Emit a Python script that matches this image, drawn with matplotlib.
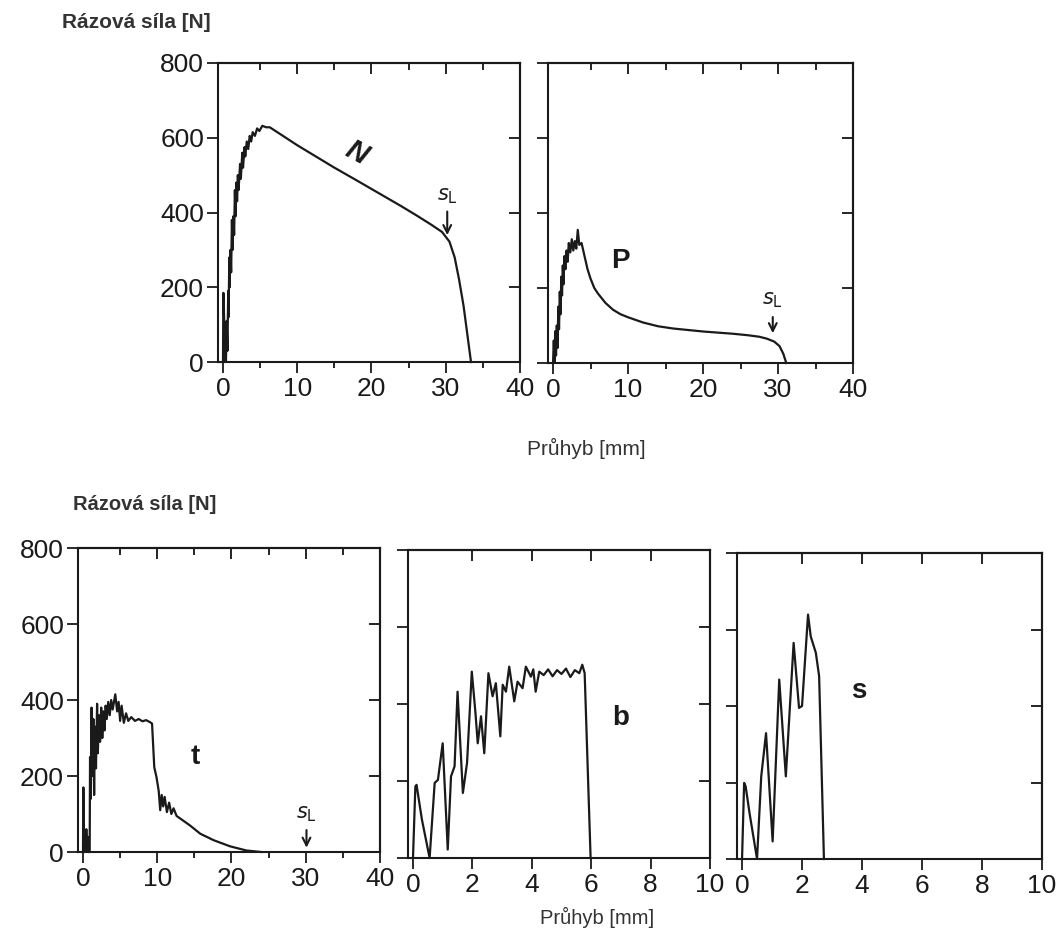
import matplotlib
matplotlib.use("Agg")
import matplotlib.pyplot as plt

plt.rcParams['font.family'] = ['Liberation Sans', 'DejaVu Sans']

# --- data (deflection mm, impact force N) ---
n_x = [0, 0.05, 0.15, 0.2, 0.3, 0.4, 0.5, 0.6, 0.7, 0.75, 0.85, 0.9, 1.0, 1.1, 1.2, 1.3,
       1.4, 1.5, 1.6, 1.7, 1.8, 1.9, 2.0, 2.1, 2.3, 2.4, 2.6, 2.7, 2.9, 3.0, 3.2, 3.4,
       3.6, 3.8, 4.0, 4.3, 4.6, 4.9, 5.3, 5.8, 6.3, 8, 10, 12, 15, 18, 20, 22, 24, 26,
       28, 29.5, 30.5, 31.2, 31.8, 32.4, 33.0, 33.4]
n_y = [0, 185, 120, 0, 60, 0, 110, 30, 190, 120, 280, 200, 300, 240, 380, 300,
       390, 340, 460, 390, 480, 430, 500, 460, 530, 490, 560, 520, 575, 550, 590, 570,
       605, 590, 615, 605, 625, 618, 632, 628, 628, 606, 580, 556, 520, 486, 463, 440, 417, 393,
       368, 348, 322, 280, 220, 150, 60, 0]

p_x = [0, 0.1, 0.2, 0.3, 0.4, 0.5, 0.6, 0.7, 0.8, 0.9, 1.0, 1.1, 1.2, 1.3, 1.4, 1.5,
       1.65, 1.8, 1.95, 2.1, 2.3, 2.5, 2.7, 2.9, 3.1, 3.3, 3.5, 3.8, 4.2, 4.6, 5.0, 5.5,
       6.0, 7.0, 8.0, 9.0, 10, 12, 14, 16, 18, 20, 22, 24, 26, 27.5, 28.5, 29.5, 30.2,
       30.7, 31.1]
p_y = [0, 60, 0, 85, 20, 100, 40, 150, 90, 190, 130, 230, 180, 260, 210, 285,
       250, 300, 270, 320, 295, 330, 300, 325, 305, 355, 315, 320, 285, 250, 225, 200,
       185, 160, 142, 130, 122, 108, 98, 92, 88, 84, 81, 78, 74, 70, 65, 57, 45,
       25, 0]

t_x = [0, 0.05, 0.15, 0.25, 0.35, 0.45, 0.55, 0.65, 0.75, 0.9, 0.95, 1.05, 1.15, 1.25,
       1.4, 1.5, 1.6, 1.75, 1.9, 2.0, 2.15, 2.3, 2.45, 2.6, 2.75, 2.9, 3.05, 3.2, 3.4,
       3.6, 3.8, 4.0, 4.35, 4.6, 4.8, 5.0, 5.2, 5.5, 5.8, 6.1, 6.5, 7.0, 7.5, 8.0, 8.5,
       9.0, 9.3, 9.6, 9.9, 10.2, 10.4, 10.6, 10.8, 11.0, 11.3, 11.6, 11.9, 12.2, 12.6,
       13.1, 14.4, 15.8, 17.6, 19.8, 22, 24]
t_y = [0, 170, 0, 50, 0, 60, 5, 40, 0, 0, 250, 140, 380, 200,
       350, 150, 330, 220, 390, 260, 360, 290, 380, 300, 370, 320, 385, 350, 395,
       360, 400, 375, 415, 370, 395, 345, 385, 340, 365, 345, 355, 345, 350, 344, 347,
       342, 338, 223, 197, 160, 110, 150, 120, 145, 105, 130, 100, 115, 95,
       88, 70, 48, 31, 15, 4, 0]

b_x = [0, 0.08, 0.12, 0.3, 0.56, 0.73, 0.84, 1.0, 1.17, 1.28, 1.4, 1.5, 1.68, 1.82,
       1.98, 2.1, 2.18, 2.29, 2.4, 2.54, 2.68, 2.79, 2.94, 3.02, 3.13, 3.24, 3.41, 3.52,
       3.69, 3.8, 3.97, 4.05, 4.13, 4.25, 4.4, 4.55, 4.7, 4.85, 5.0, 5.15, 5.3, 5.45,
       5.6, 5.7, 5.78, 5.98]
b_y = [0, 186, 190, 100, 0, 195, 203, 298, 22, 212, 238, 432, 169, 247,
       484, 380, 298, 368, 272, 480, 420, 454, 316, 450, 432, 497, 407, 458,
       441, 497, 471, 490, 432, 484, 475, 490, 472, 488, 478, 492, 470, 488,
       480, 502, 480, 0]

s_x = [0, 0.07, 0.12, 0.25, 0.5, 0.64, 0.8, 1.02, 1.24, 1.46, 1.72, 1.9, 2.0, 2.2,
       2.29, 2.46, 2.57, 2.73]
s_y = [0, 199, 190, 120, 0, 216, 329, 46, 469, 216, 565, 395, 400, 639,
       582, 539, 478, 0]

y_ticks = [0, 200, 400, 600, 800]

fig = plt.figure(figsize=(10.62, 9.32), dpi=100)
W, H = 1062.0, 932.0


def panel(left, top, right, bottom, xmax, xmajor, xminor, xtop, xtop_minor, ylabels):
    ax = fig.add_axes([left / W, 1 - bottom / H, (right - left) / W, (bottom - top) / H])
    ax.set_xlim(-xmax * 0.0168, xmax)
    ax.set_ylim(0, 800)
    ax.set_xticks(xmajor)
    ax.set_xticks(xminor, minor=True)
    ax.set_yticks(y_ticks)
    ax.tick_params(axis='both', which='major', direction='out', length=8, width=1.3,
                   labelsize=19, colors='#1a1a1a')
    ax.tick_params(axis='x', which='major', pad=3)
    ax.tick_params(axis='y', which='major', pad=2, labelleft=ylabels)
    ax.tick_params(axis='x', which='minor', direction='out', length=4, width=1.2)
    for sp in ax.spines.values():
        sp.set_linewidth(1.5)
        sp.set_color('#1a1a1a')
    top_ax = ax.secondary_xaxis('top')
    top_ax.set_xticks(xtop)
    top_ax.set_xticks(xtop_minor, minor=True)
    top_ax.tick_params(which='major', direction='in', length=8, width=1.2, labeltop=False)
    top_ax.tick_params(which='minor', direction='in', length=5, width=1.2)
    top_ax.spines['top'].set_linewidth(1.5)
    right_ax = ax.secondary_yaxis('right')
    right_ax.set_yticks([200, 400, 600])
    right_ax.tick_params(direction='in', length=8, width=1.2, labelright=False)
    right_ax.spines['right'].set_linewidth(1.5)
    return ax


def s_l(ax, x, ytext, ytip, ylab):
    ax.annotate('', xy=(x, ytip), xytext=(x, ytext),
                arrowprops=dict(arrowstyle='->', lw=1.5, color='#1a1a1a',
                                mutation_scale=14))
    ax.text(x, ylab, r'$s_{\mathrm{L}}$', ha='center', va='bottom', fontsize=15,
            color='#1a1a1a')


line_kw = dict(color='#1a1a1a', lw=1.6, clip_on=False)

# top row
ax1 = panel(218, 63, 520, 362, 40, [0, 10, 20, 30, 40], [5, 15, 25, 35],
            [10, 20, 30], [5, 15, 25, 35], True)
ax1.plot(n_x, n_y, **line_kw)
ax1.text(18, 560, 'N', fontsize=21, style='italic', fontweight='bold', rotation=-28,
         ha='center', va='center', color='#1a1a1a')
s_l(ax1, 30.2, 410, 332, 418)

ax2 = panel(548, 63, 853, 363, 40, [0, 10, 20, 30, 40], [5, 15, 25, 35],
            [10, 20, 30], [5, 15, 25, 35], False)
ax2.plot(p_x, p_y, **line_kw)
ax2.text(9.0, 272, 'P', fontsize=20, fontweight='bold', ha='center', va='center',
         color='#1a1a1a')
s_l(ax2, 29.3, 130, 72, 140)

# bottom row
ax3 = panel(78, 548, 380, 852, 40, [0, 10, 20, 30, 40], [5, 15, 25, 35],
            [10, 20, 30], [5, 15, 25, 35], True)
ax3.plot(t_x, t_y, **line_kw)
ax3.text(15.1, 250, 't', fontsize=20, fontweight='bold', ha='center', va='center',
         color='#1a1a1a')
s_l(ax3, 30.1, 65, 4, 74)

ax4 = panel(408, 550, 710, 858, 10, [0, 2, 4, 6, 8, 10], [], [2, 4, 6, 8], [], False)
ax4.plot(b_x, b_y, **line_kw)
ax4.text(7.0, 364, 'b', fontsize=20, fontweight='bold', ha='center', va='center',
         color='#1a1a1a')

ax5 = panel(737, 553, 1042, 859, 10, [0, 2, 4, 6, 8, 10], [], [2, 4, 6, 8], [], False)
ax5.plot(s_x, s_y, **line_kw)
ax5.text(3.9, 439, 's', fontsize=20, fontweight='bold', ha='center', va='center',
         color='#1a1a1a')

# axis captions
fig.text(62 / W, 1 - 22 / H, 'Rázová síla [N]', fontsize=15, fontweight='bold',
         ha='left', va='center', color='#333333')
fig.text(73 / W, 1 - 504 / H, 'Rázová síla [N]', fontsize=14.5, fontweight='bold',
         ha='left', va='center', color='#333333')
fig.text(586 / W, 1 - 448 / H, 'Průhyb [mm]', fontsize=15, ha='center', va='center',
         color='#333333')
fig.text(597 / W, 1 - 917 / H, 'Průhyb [mm]', fontsize=14.5, ha='center', va='center',
         color='#333333')

fig.savefig('out.png', dpi=100, facecolor='white')
